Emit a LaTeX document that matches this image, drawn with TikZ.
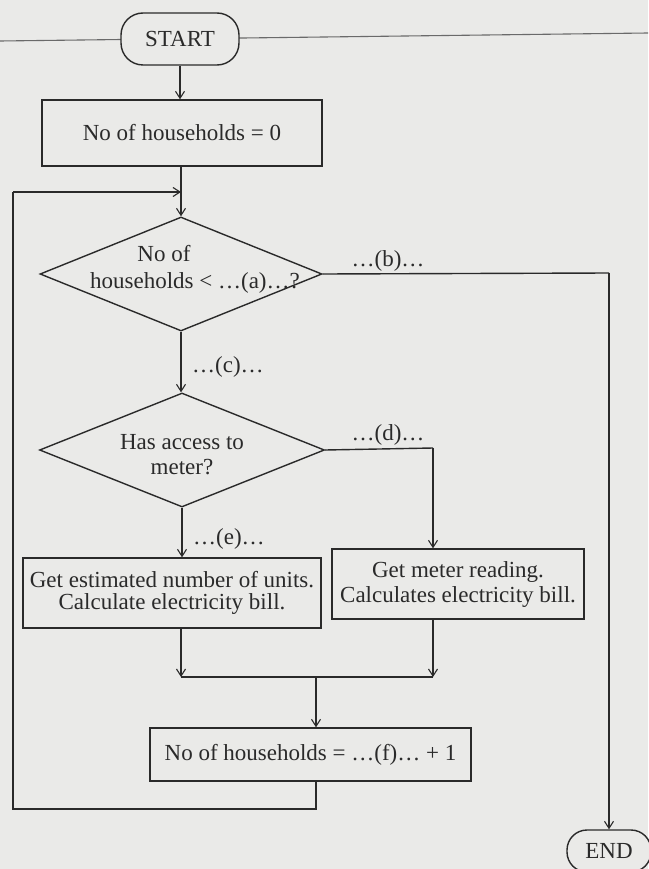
\documentclass[tikz,border=0pt]{standalone}
\usepackage{fontspec}
\setmainfont{Liberation Serif}
\usetikzlibrary{arrows.meta,shapes.geometric}
\definecolor{paper}{HTML}{EAEAE8}
\definecolor{ink}{HTML}{2A2A2A}
\begin{document}
\begin{tikzpicture}[x=1pt,y=-1pt,
  every node/.style={font=\fontsize{23}{25}\selectfont, text=ink},
  shp/.style={draw=ink, line width=1.4pt, fill=paper, inner sep=0pt, align=center},
  procbox/.style={shp, rectangle},
  termbox/.style={shp, rectangle, rounded corners=22pt},
  decbox/.style={shp, diamond},
  txt/.style={align=center, inner sep=0pt},
  lbl/.style={inner sep=0pt},
  conn/.style={draw=ink, line width=1.4pt},
  arr/.style={conn, -{Straight Barb[length=7pt,width=9pt,line width=1.1pt]}}
]
\useasboundingbox (0,0) rectangle (648,869);
\fill[paper] (0,0) rectangle (648,869);
% page rule behind START
\coordinate (ruleL) at (0,41);
\coordinate (ruleR) at (648,33);
\draw[ink!70, line width=1.1pt] (ruleL) -- (ruleR);

% nodes
\node[termbox, minimum width=118, minimum height=52] (start) at (180,39) {START};
\node[procbox, minimum width=280, minimum height=66] (b0) at (182,133) {No of households = 0};
\node[decbox, minimum width=282, minimum height=114] (d1) at (181,274) {};
\node[txt, font=\fontsize{23}{27}\selectfont] (d1t) at (195,269) {\hspace*{-62pt}No of\\households < …(a)…?};
\node[decbox, minimum width=285, minimum height=114] (d2) at (182,450) {};
\node[txt, font=\fontsize{23}{25}\selectfont] (d2t) at (182,455) {Has access to\\meter?};
\node[procbox, minimum width=298, minimum height=70, font=\fontsize{23}{22}\selectfont] (bl) at (172,593) {Get estimated number of units.\\Calculate electricity bill.};
\node[procbox, minimum width=252, minimum height=70] (br) at (458,584) {Get meter reading.\\Calculates electricity bill.};
\node[procbox, minimum width=321, minimum height=53] (bf) at (310.5,754.5) {No of households = …(f)… + 1};
\node[termbox, minimum width=84, minimum height=42, rounded corners=20pt] (end) at (609,851) {END};

% labels
\node[lbl] (lb) at (388,261) {…(b)…};
\node[lbl, anchor=west] (lc) at (192,367) {…(c)…};
\node[lbl] (ld) at (388,435) {…(d)…};
\node[lbl, anchor=west] (le) at (193,539) {…(e)…};

% helper coordinates
\coordinate (loopA) at (181,192);
\coordinate (loopB) at (13,809);
\coordinate (bcorner) at (609,273);
\coordinate (dcorner) at (433,448);
\coordinate (jl) at (181,677);
\coordinate (jr) at (433,677);
\coordinate (jm) at (316,677);

% connectors
\draw[arr] (start.south) -- (start.south |- b0.north);
\draw[arr] (b0.south -| d1.north) -- (d1.north);
\draw[arr] (d1.south) -- (d1.south |- d2.north);
\draw[arr] (d2.south) -- (d2.south |- bl.north);
\draw[conn] (d1.east) -- (bcorner);
\draw[arr] (bcorner) -- (bcorner |- end.north);
\draw[conn] (d2.east) -- (dcorner);
\draw[arr] (dcorner) -- (dcorner |- br.north);
\draw[arr] (jl |- bl.south) -- (jl);
\draw[arr] (jr |- br.south) -- (jr);
\draw[conn] (jl) -- (jr);
\draw[arr] (jm) -- (jm |- bf.north);
\draw[conn] (bf.south -| jm) -- (jm |- loopB) -- (loopB) -- (loopB |- loopA);
\draw[arr] (loopB |- loopA) -- (loopA);
\end{tikzpicture}
\end{document}
